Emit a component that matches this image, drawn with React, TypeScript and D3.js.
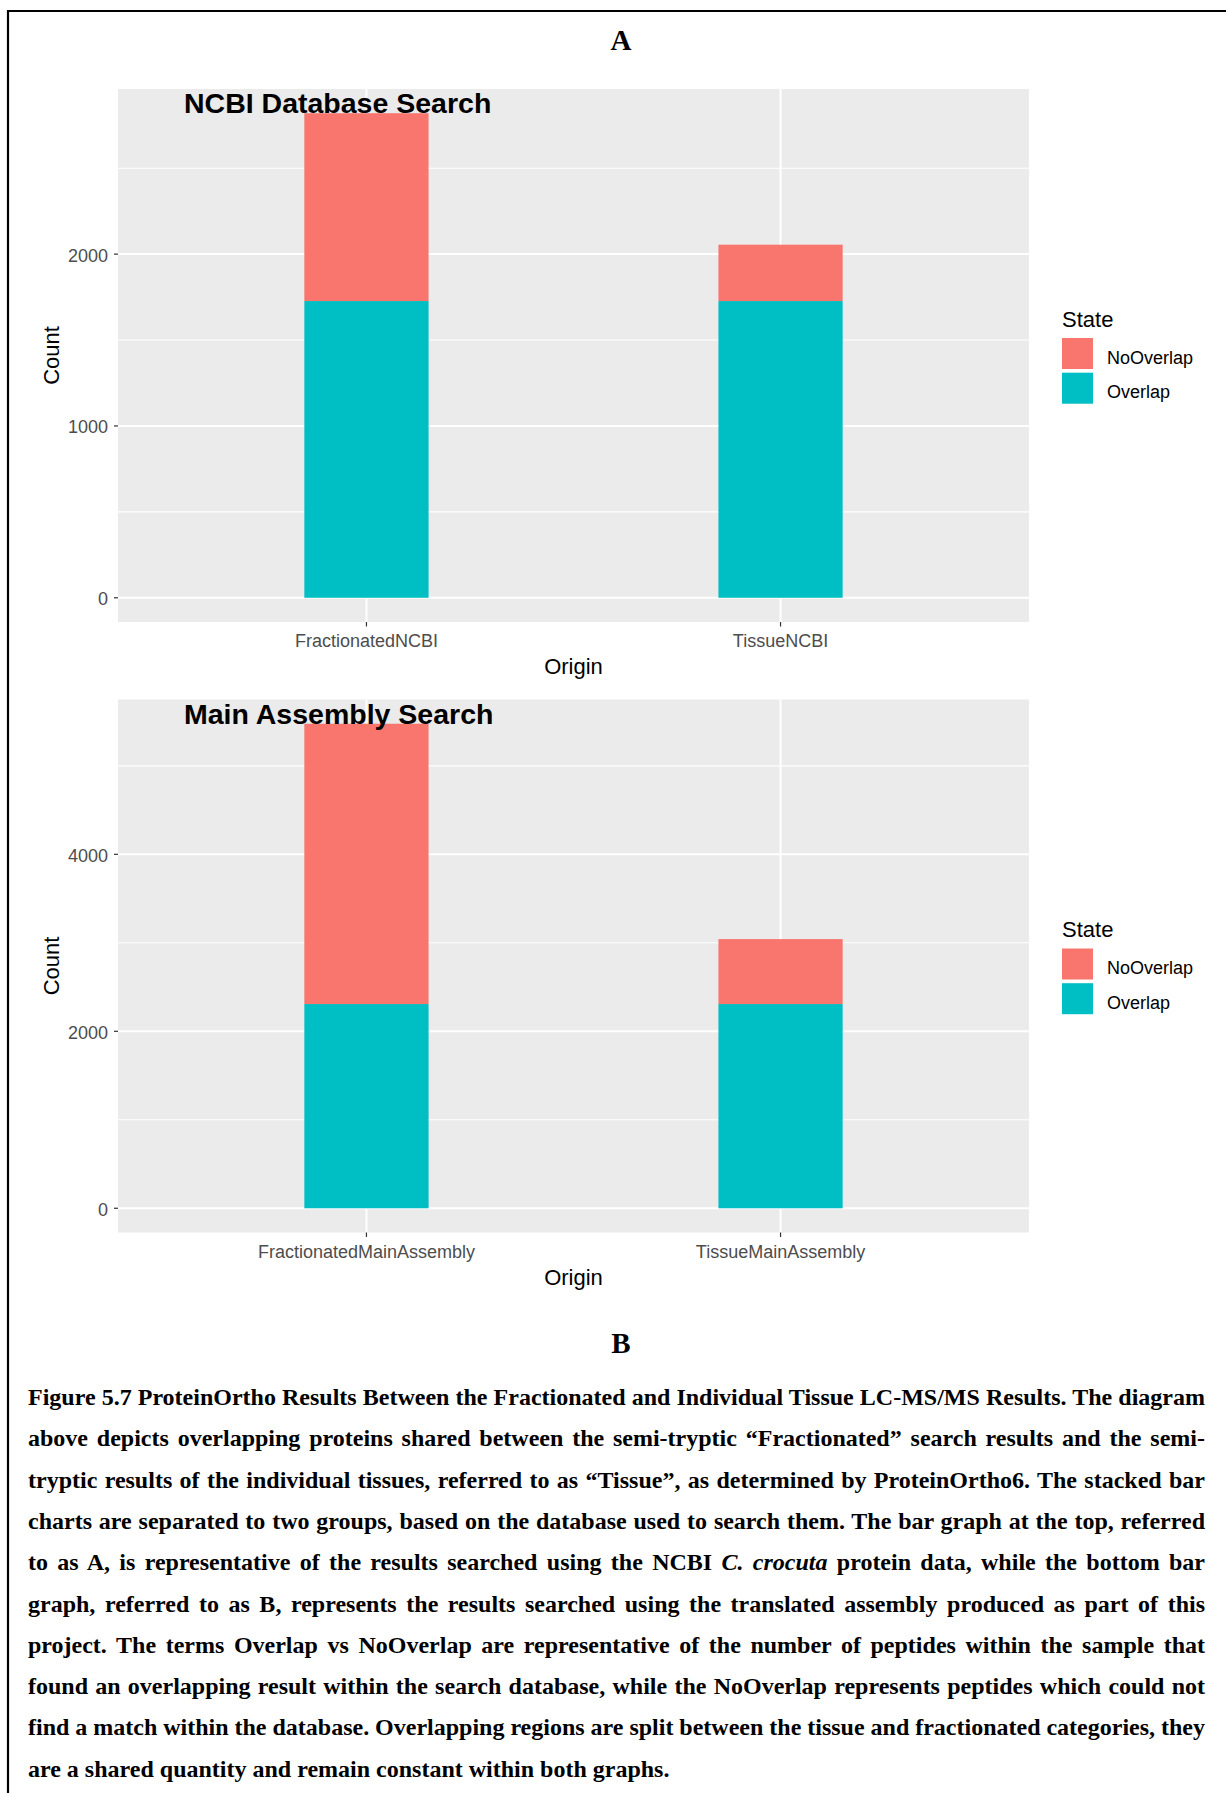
import { useEffect, useRef } from "react"
import * as d3 from "d3"

const states = ["NoOverlap", "Overlap"]
const stateColors: Record<string, string> = { NoOverlap: "#F8766D", Overlap: "#00BFC4" }

// panel A: NCBI database search
const originsA = ["FractionatedNCBI", "TissueNCBI"]
const overlapA = [1727, 1727]
const noOverlapA = [1093, 328]
const majorTicksA = [0, 1000, 2000]
const minorTicksA = [500, 1500, 2500]

// panel B: main assembly search
const originsB = ["FractionatedMainAssembly", "TissueMainAssembly"]
const overlapB = [2308, 2308]
const noOverlapB = [3168, 734]
const majorTicksB = [0, 2000, 4000]
const minorTicksB = [1000, 3000, 5000]

// *...* marks italic words
const captionLines = [
  "Figure 5.7 ProteinOrtho Results Between the Fractionated and Individual Tissue LC-MS/MS Results. The diagram",
  "above depicts overlapping proteins shared between the semi-tryptic \u201cFractionated\u201d search results and the semi-",
  "tryptic results of the individual tissues, referred to as \u201cTissue\u201d, as determined by ProteinOrtho6. The stacked bar",
  "charts are separated to two groups, based on the database used to search them. The bar graph at the top, referred",
  "to as A, is representative of the results searched using the NCBI *C. crocuta* protein data, while the bottom bar",
  "graph, referred to as B, represents the results searched using the translated assembly produced as part of this",
  "project. The terms Overlap vs NoOverlap are representative of the number of peptides within the sample that",
  "found an overlapping result within the search database, while the NoOverlap represents peptides which could not",
  "find a match within the database. Overlapping regions are split between the tissue and fractionated categories, they",
  "are a shared quantity and remain constant within both graphs.",
]

const W = 1226
const H = 1793
const SANS = "'Liberation Sans', Arial, sans-serif"
const SERIF = "'Liberation Serif', 'Times New Roman', serif"

interface PanelProps {
  top: number
  title: string
  origins: string[]
  overlap: number[]
  noOverlap: number[]
  majorTicks: number[]
  minorTicks: number[]
}

function Panel({ top, title, origins, overlap, noOverlap, majorTicks, minorTicks }: PanelProps) {
  const left = 118
  const right = 1029
  const height = 533
  const bottom = top + height
  const cy = top + height / 2

  const rows = origins.map((o, i) => ({ origin: o, Overlap: overlap[i], NoOverlap: noOverlap[i] }))
  const maxTotal = d3.max(rows, d => d.Overlap + d.NoOverlap) || 1

  // ggplot style 5% expansion
  const y = d3.scaleLinear().domain([-0.05 * maxTotal, 1.05 * maxTotal]).range([bottom, top])
  const x = d3.scalePoint<string>().domain(origins).range([left, right]).padding(0.6)
  const barW = x.step() * 0.3

  const series = d3.stack<any>().keys(["Overlap", "NoOverlap"])(rows)

  return (
    <g>
      <rect x={left} y={top} width={right - left} height={height} fill="#EBEBEB" />
      {minorTicks.map(t => (
        <line key={"mi" + t} x1={left} x2={right} y1={y(t)} y2={y(t)} stroke="#fff" strokeWidth={1.1} />
      ))}
      {majorTicks.map(t => (
        <line key={"ma" + t} x1={left} x2={right} y1={y(t)} y2={y(t)} stroke="#fff" strokeWidth={2} />
      ))}
      {origins.map(o => (
        <line key={"v" + o} x1={x(o)} x2={x(o)} y1={top} y2={bottom} stroke="#fff" strokeWidth={2} />
      ))}

      {series.map(s => (
        <g key={s.key} fill={stateColors[s.key]}>
          {s.map((d, i) => (
            <rect
              key={i}
              x={(x(d.data.origin) as number) - barW / 2}
              y={y(d[1])}
              width={barW}
              height={y(d[0]) - y(d[1])}
            />
          ))}
        </g>
      ))}

      {/* y axis */}
      {majorTicks.map(t => (
        <g key={"yt" + t}>
          <line x1={left - 4} x2={left} y1={y(t)} y2={y(t)} stroke="#333" strokeWidth={1.2} />
          <text x={left - 10} y={y(t) + 7.5} textAnchor="end" fontSize={18} fill="#4D4D4D" fontFamily={SANS}>
            {t}
          </text>
        </g>
      ))}
      <text
        transform={`translate(59,${cy}) rotate(-90)`}
        textAnchor="middle"
        fontSize={22}
        fill="#000"
        fontFamily={SANS}
      >
        Count
      </text>

      {/* x axis */}
      {origins.map(o => (
        <g key={"xt" + o}>
          <line x1={x(o)} x2={x(o)} y1={bottom} y2={bottom + 4.5} stroke="#333" strokeWidth={1.2} />
          <text x={x(o)} y={bottom + 25.3} textAnchor="middle" fontSize={18} fill="#4D4D4D" fontFamily={SANS}>
            {o}
          </text>
        </g>
      ))}
      <text x={(left + right) / 2} y={bottom + 52} textAnchor="middle" fontSize={22} fill="#000" fontFamily={SANS}>
        Origin
      </text>

      {/* title drawn over the panel */}
      <text x={184} y={top + 24} fontSize={28.5} fontWeight="bold" fill="#000" fontFamily={SANS}>
        {title}
      </text>

      {/* legend */}
      <text x={1062} y={cy - 29} fontSize={22} fill="#000" fontFamily={SANS}>State</text>
      {states.map((s, i) => {
        const ky = cy - 17.5 + i * 34.7
        return (
          <g key={"lg" + s}>
            <rect x={1062} y={ky} width={31} height={31} fill={stateColors[s]} />
            <text x={1107} y={ky + 25.5} fontSize={18} fill="#000" fontFamily={SANS}>{s}</text>
          </g>
        )
      })}
    </g>
  )
}

function renderLine(line: string) {
  const parts = line.split("*")
  return parts.map((p, i) =>
    i % 2 === 1 ? <tspan key={i} fontStyle="italic">{p}</tspan> : <tspan key={i}>{p}</tspan>
  )
}

export default function App() {
  const captionRef = useRef<SVGGElement>(null)
  const capLeft = 28
  const capRight = 1205
  const capTop = 1405
  const capStep = 41.3

  useEffect(() => {
    if (!captionRef.current) return
    // justify every line but the last by spreading the word spacing
    d3.select(captionRef.current)
      .selectAll<SVGTextElement, unknown>("text")
      .each(function (_, i, nodes) {
        if (i === nodes.length - 1) return
        const node = this as SVGTextElement
        node.setAttribute("word-spacing", "0")
        const len = node.getComputedTextLength()
        const spaces = (node.textContent || "").split(" ").length - 1
        if (spaces > 0) node.setAttribute("word-spacing", String((capRight - capLeft - len) / spaces))
      })
  }, [])

  return (
    <div style={{ position: "absolute", left: 0, top: 0, background: "#fff" }}>
      <svg width={W} height={H} style={{ display: "block", background: "#fff" }}>
        <path d={`M8,${H} V11 H${W}`} fill="none" stroke="#000" strokeWidth={2.2} />

        <text x={621} y={49.5} textAnchor="middle" fontSize={29} fontWeight="bold" fontFamily={SERIF}>A</text>

        <Panel
          top={89}
          title="NCBI Database Search"
          origins={originsA}
          overlap={overlapA}
          noOverlap={noOverlapA}
          majorTicks={majorTicksA}
          minorTicks={minorTicksA}
        />
        <Panel
          top={699.5}
          title="Main Assembly Search"
          origins={originsB}
          overlap={overlapB}
          noOverlap={noOverlapB}
          majorTicks={majorTicksB}
          minorTicks={minorTicksB}
        />

        <text x={621} y={1353} textAnchor="middle" fontSize={29} fontWeight="bold" fontFamily={SERIF}>B</text>

        <g ref={captionRef} fontFamily={SERIF} fontWeight="bold" fontSize={24} fill="#000">
          {captionLines.map((line, i) => (
            <text key={i} x={capLeft} y={capTop + i * capStep} style={{ whiteSpace: "pre" }}>
              {renderLine(line)}
            </text>
          ))}
        </g>
      </svg>
    </div>
  )
}
